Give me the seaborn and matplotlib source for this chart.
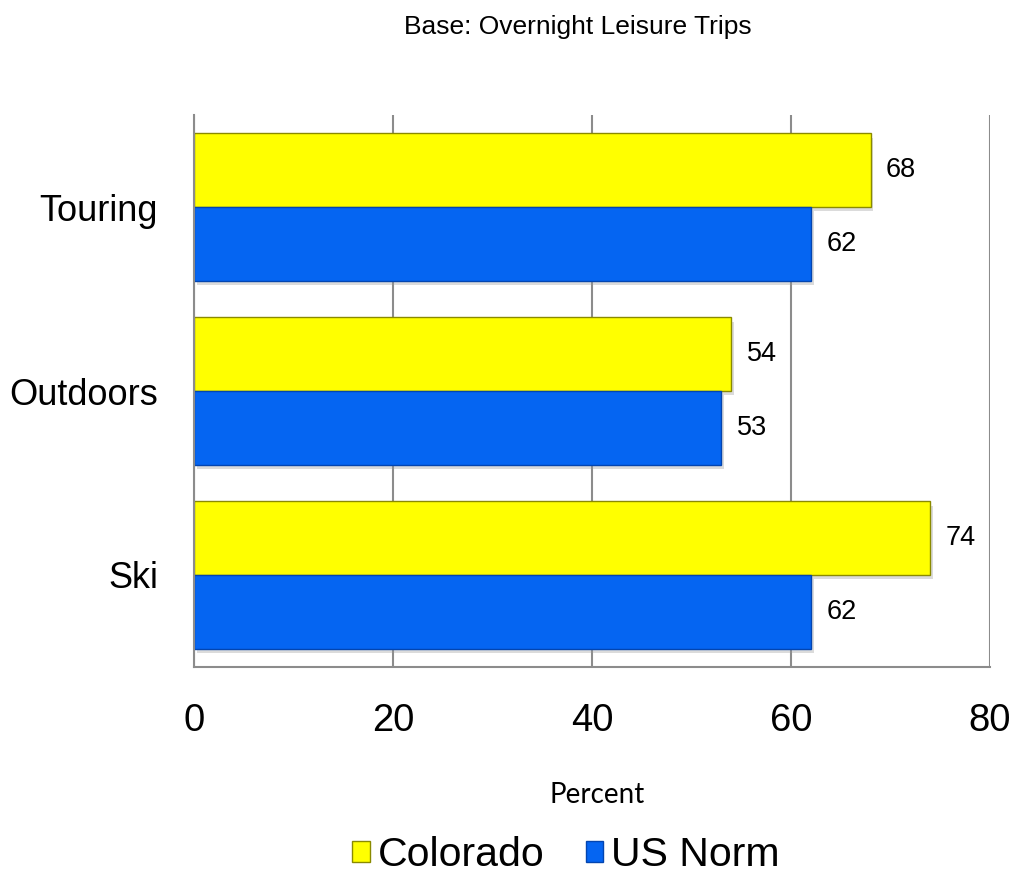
import matplotlib
matplotlib.use("Agg")
import matplotlib.pyplot as plt
import matplotlib.patheffects as pe
from matplotlib.patches import Patch
import seaborn as sns
import pandas as pd

categories = ["Touring", "Outdoors", "Ski"]
series_names = ["Colorado", "US Norm"]
colorado = [68, 54, 74]
us_norm = [62, 53, 62]
x_ticks = [0, 20, 40, 60, 80]

colors = {"Colorado": "#FFFF00", "US Norm": "#0565F2"}
edges = {"Colorado": "#8A8A00", "US Norm": "#0345B0"}

df = pd.DataFrame({
    "Category": categories * 2,
    "Series": [series_names[0]] * 3 + [series_names[1]] * 3,
    "Value": colorado + us_norm,
})

sns.set_theme(style="white")
plt.rcParams["font.family"] = ["Liberation Sans", "DejaVu Sans"]
plt.rcParams["text.color"] = "black"
plt.rcParams["xtick.color"] = "black"
plt.rcParams["ytick.color"] = "black"

fig = plt.figure(figsize=(10.15, 8.74), dpi=100)
ax = fig.add_axes([194 / 1015, 1 - 667 / 874, (990 - 194) / 1015, (667 - 115) / 874])

sns.barplot(data=df, y="Category", x="Value", hue="Series", order=categories,
            hue_order=series_names, palette=colors, orient="h", width=0.8,
            ax=ax, legend=False, saturation=1)

for cont, name in zip(ax.containers, series_names):
    for bar in cont:
        bar.set_edgecolor(edges[name])
        bar.set_linewidth(1.0)
        bar.set_path_effects([pe.SimplePatchShadow(offset=(2, -3), shadow_rgbFace="#999999", alpha=0.35), pe.Normal()])
    ax.bar_label(cont, labels=[f"{v:g}" for v in cont.datavalues], padding=11, fontsize=19.5, color="black")

ax.set_xlim(0, 80)
ax.set_xticks(x_ticks)
ax.set_xticklabels([str(t) for t in x_ticks], fontsize=27.5, color="black")
ax.set_yticklabels(categories, fontsize=26, color="black")
ax.tick_params(axis="both", length=0)
ax.tick_params(axis="y", pad=26)
ax.tick_params(axis="x", pad=26)
ax.xaxis.grid(True, color="#8c8c8c", linewidth=1.5)
ax.yaxis.grid(False)
ax.set_axisbelow(True)
for s in ["top", "right"]:
    ax.spines[s].set_visible(False)
for s in ["left", "bottom"]:
    ax.spines[s].set_color("#8c8c8c")
    ax.spines[s].set_linewidth(1.5)
ax.set_ylabel("")
ax.set_xlabel("")

fig.text(578 / 1015, 1 - 27 / 874, "Base: Overnight Leisure Trips", ha="center", va="center",
         fontsize=19, color="black")
fig.text(597 / 1015, 1 - 795 / 874, "Percent", ha="center", va="center", fontsize=20,
         family=["Lato", "DejaVu Sans"], color="black")

handles = [Patch(facecolor=colors[n], edgecolor=edges[n], label=n) for n in series_names]
fig.legend(handles=handles, loc="center", bbox_to_anchor=(566 / 1015, 1 - 855 / 874), ncol=2,
           frameon=False, fontsize=29.5, handlelength=0.42, handleheight=0.42, handletextpad=0.2,
           columnspacing=1.0, labelcolor="black")

fig.savefig("out.png", dpi=100)
